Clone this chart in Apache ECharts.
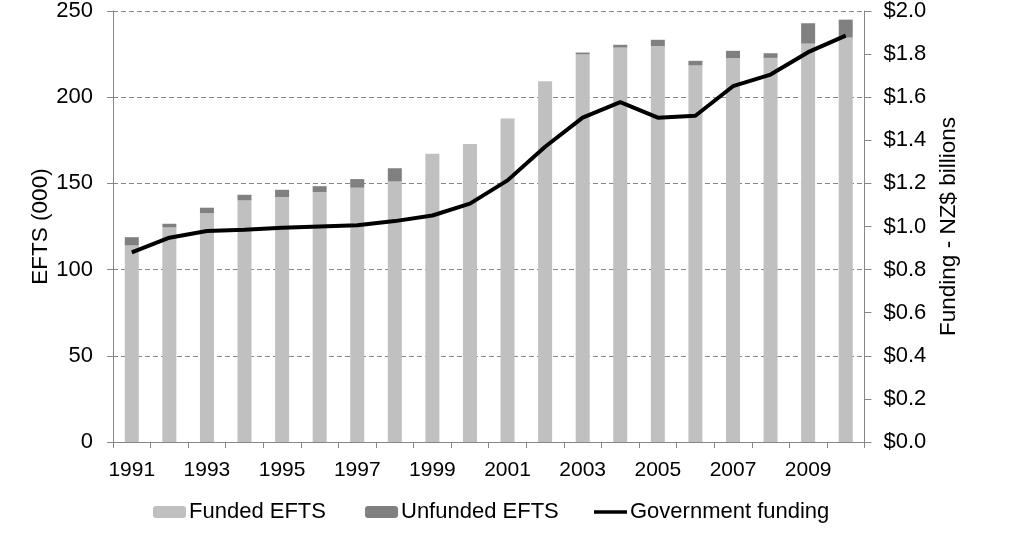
<!DOCTYPE html>
<html>
<head>
<meta charset="utf-8">
<script src="https://cdn.jsdelivr.net/npm/echarts@6/dist/echarts.min.js"></script>
<style>
html,body{margin:0;padding:0;background:#fff;}
#chart{width:1023px;height:543px;}
</style>
</head>
<body>
<div id="chart"></div>
<script>
var years = ['1991','1992','1993','1994','1995','1996','1997','1998','1999','2000','2001','2002','2003','2004','2005','2006','2007','2008','2009','2010'];
var fundedEFTS = [114.0,124.5,132.8,140.1,142.0,144.9,147.5,151.1,167.2,172.8,187.7,209.3,224.8,228.8,229.6,218.4,222.6,222.8,231.1,234.6];
var unfundedEFTS = [4.8,2.1,3.1,3.3,4.3,3.5,5.0,7.7,0,0,0,0,1.1,1.6,3.7,2.7,4.3,2.7,11.8,10.4];
var govFunding = [0.880,0.948,0.979,0.985,0.994,1.000,1.006,1.025,1.051,1.106,1.214,1.370,1.505,1.577,1.505,1.514,1.651,1.705,1.809,1.886];
var leftTicks = {min:0, max:250, interval:50};
var rightTicks = {min:0, max:2, interval:0.2};

var FONT = 'Liberation Sans, Arial, sans-serif';
var AX = '#868686';
function legendAt(left, name, icon){
  var item = {name:name};
  if (icon) item.icon = icon;
  return {
    left:left, top:496, itemWidth:33, itemHeight:12, itemGap:0, selectedMode:false,
    symbolKeepAspect:true,
    textStyle:{fontFamily:FONT,fontSize:22,color:'#000',padding:[0,0,0,-2]},
    data:[item]
  };
}
var chart = echarts.init(document.getElementById('chart'));
chart.setOption({
  animation:false,
  textStyle:{fontFamily:FONT,color:'#000'},
  grid:{left:113,right:158.5,top:10.7,bottom:101},
  legend:[
    legendAt(148,'Funded EFTS'),
    legendAt(360,'Unfunded EFTS'),
    legendAt(589,'Government funding','path://M0,0 L37,0 L37,4 L0,4 Z')
  ],
  xAxis:{
    type:'category', data:years, boundaryGap:true,
    axisLine:{lineStyle:{color:AX,width:1}},
    axisTick:{show:true,alignWithLabel:false,interval:0,length:6,lineStyle:{color:AX}},
    axisLabel:{interval:1,fontSize:21,color:'#000',fontFamily:FONT,margin:18}
  },
  yAxis:[
    {
      type:'value', min:leftTicks.min, max:leftTicks.max, interval:leftTicks.interval,
      name:'EFTS (000)', nameLocation:'middle', nameGap:61, nameRotate:90, nameMoveOverlap:false,
      nameTextStyle:{fontSize:22.5,color:'#000',fontFamily:FONT},
      axisLine:{show:true,lineStyle:{color:AX}},
      axisTick:{show:true,length:6,lineStyle:{color:AX}},
      axisLabel:{fontSize:22,color:'#000',fontFamily:FONT,margin:20},
      splitLine:{show:true,lineStyle:{color:AX,type:[5,3],width:1}}
    },
    {
      type:'value', position:'right', min:rightTicks.min, max:rightTicks.max, interval:rightTicks.interval,
      name:'Funding - NZ$ billions', nameLocation:'middle', nameGap:72, nameRotate:90,
      nameTextStyle:{fontSize:22.5,color:'#000',fontFamily:FONT},
      axisLine:{show:true,lineStyle:{color:AX}},
      axisTick:{show:true,length:7,lineStyle:{color:AX}},
      axisLabel:{fontSize:22,color:'#000',fontFamily:FONT,margin:19,
        formatter:function(v){return '$'+v.toFixed(1);}},
      splitLine:{show:false}
    }
  ],
  series:[
    {name:'Funded EFTS',type:'bar',stack:'efts',data:fundedEFTS,barWidth:14,
     itemStyle:{color:'#c0c0c0'}},
    {name:'Unfunded EFTS',type:'bar',stack:'efts',data:unfundedEFTS,barWidth:14,
     itemStyle:{color:'#808080'}},
    {name:'Government funding',type:'line',yAxisIndex:1,data:govFunding,
     symbol:'none',showSymbol:false,lineStyle:{color:'#000',width:4},itemStyle:{color:'#000'}}
  ]
});
</script>
</body>
</html>
